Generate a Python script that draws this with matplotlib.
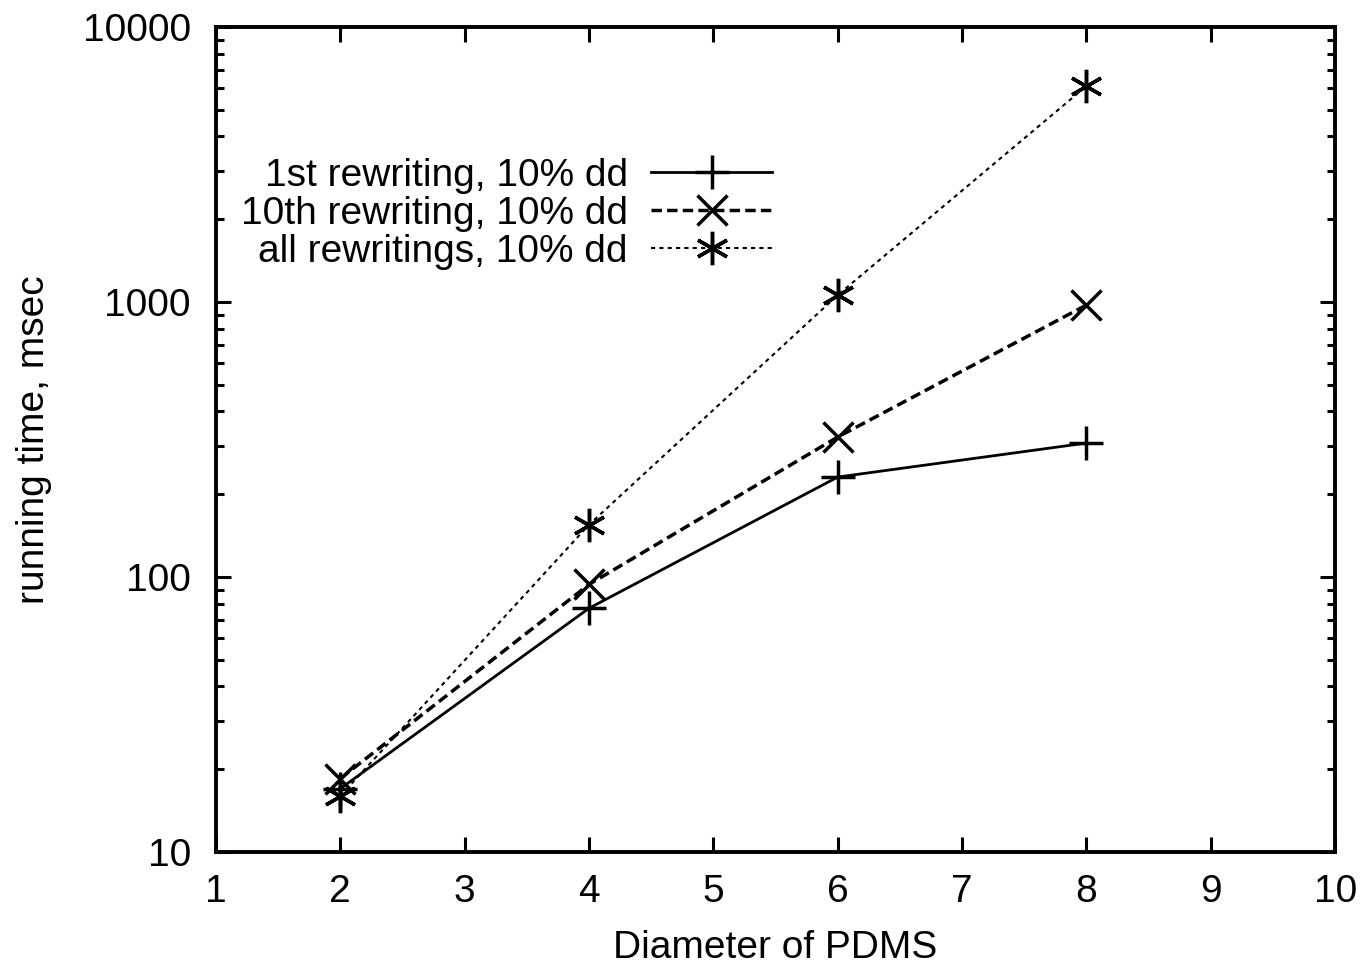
import matplotlib.pyplot as plt
from matplotlib.ticker import LogLocator, NullFormatter, FixedLocator

plt.rcParams["font.family"] = ["Liberation Sans", "DejaVu Sans"]

diameter = [2, 4, 6, 8]
first_rw = [17, 77, 231, 307]
tenth_rw = [18.5, 94, 323, 975]
all_rw = [16, 155, 1060, 6100]
labels = ["1st rewriting, 10% dd", "10th rewriting, 10% dd", "all rewritings, 10% dd"]

fig = plt.figure(figsize=(13.61, 9.66), dpi=100)
ax = fig.add_axes([0.1587, 0.118, 0.8223, 0.854])

ax.plot(diameter, first_rw, color="black", lw=2, ls="-", marker="+",
        ms=24, mew=2.5, label=labels[0])
ax.plot(diameter, tenth_rw, color="black", lw=2.5, ls=(0, (3, 1.5)), marker="x",
        ms=22, mew=2.5, label=labels[1])
ax.plot(diameter, all_rw, color="black", lw=1.5, ls=(0, (2, 2)), marker=(6, 2, 0),
        ms=24, mew=2.5, label=labels[2])

ax.set_yscale("log")
ax.set_xlim(1, 10)
ax.set_ylim(10, 10000)
ax.xaxis.set_major_locator(FixedLocator(range(1, 11)))
ax.yaxis.set_major_locator(FixedLocator([10, 100, 1000, 10000]))
ax.set_yticklabels(["10", "100", "1000", "10000"])
ax.yaxis.set_minor_locator(LogLocator(base=10, subs=range(2, 10)))
ax.yaxis.set_minor_formatter(NullFormatter())

ax.tick_params(which="both", direction="in", top=True, right=True, labelsize=28, width=2.2)
ax.tick_params(which="major", length=11)
ax.tick_params(which="minor", length=6)
ax.tick_params(axis="x", which="major", pad=16)
ax.tick_params(axis="y", which="major", pad=18)
for s in ax.spines.values():
    s.set_linewidth(2.8)

ax.set_xlabel("Diameter of PDMS", fontsize=28, labelpad=14)
ax.set_ylabel("running time, msec", fontsize=28, labelpad=22)

ax.legend(loc="upper right", bbox_to_anchor=(0.514, 0.865), frameon=False,
          markerfirst=False, fontsize=28, handlelength=3.1, labelspacing=0.05,
          handletextpad=0.6, borderpad=0)

fig.savefig("out.png", dpi=100)
